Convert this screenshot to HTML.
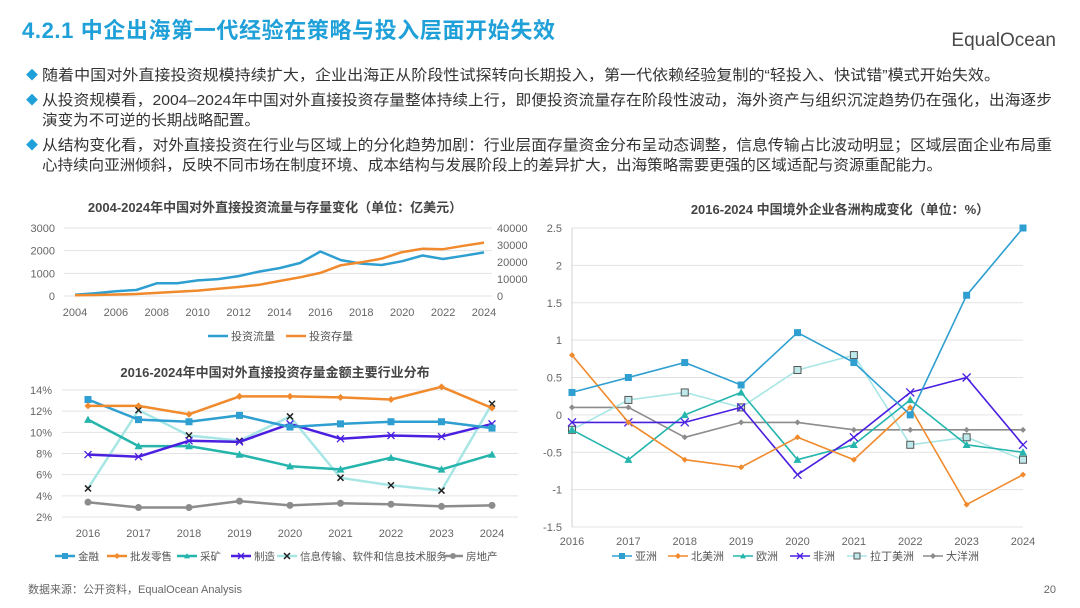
<!DOCTYPE html>
<html><head><meta charset="utf-8"><style>
body{margin:0;background:#fff;}
svg{display:block;font-family:"Liberation Sans","Noto Sans CJK SC",sans-serif;}
</style></head><body>
<svg id="s" width="1080" height="608" viewBox="0 0 1080 608">
<text x="22" y="38" font-size="22" font-weight="bold" fill="#1fa0d8" textLength="533">4.2.1 中企出海第一代经验在策略与投入层面开始失效</text>
<g><text x="1056" y="46" font-size="19" fill="#4a4a4a" text-anchor="end">EqualOcean</text></g>
<g font-size="15" fill="#333">
<text x="26" y="79" fill="#1fa0d8" font-size="12">◆</text><text x="42" y="80" textLength="958" lengthAdjust="spacingAndGlyphs">随着中国对外直接投资规模持续扩大，企业出海正从阶段性试探转向长期投入，第一代依赖经验复制的“轻投入、快试错”模式开始失效。</text>
<text x="26" y="104" fill="#1fa0d8" font-size="12">◆</text><text x="42" y="105" textLength="1010" lengthAdjust="spacingAndGlyphs">从投资规模看，2004–2024年中国对外直接投资存量整体持续上行，即便投资流量存在阶段性波动，海外资产与组织沉淀趋势仍在强化，出海逐步</text>
<text x="42" y="125" textLength="218" lengthAdjust="spacingAndGlyphs">演变为不可逆的长期战略配置。</text>
<text x="26" y="149" fill="#1fa0d8" font-size="12">◆</text><text x="42" y="150" textLength="1010" lengthAdjust="spacingAndGlyphs">从结构变化看，对外直接投资在行业与区域上的分化趋势加剧：行业层面存量资金分布呈动态调整，信息传输占比波动明显；区域层面企业布局重</text>
<text x="42" y="170" textLength="900" lengthAdjust="spacingAndGlyphs">心持续向亚洲倾斜，反映不同市场在制度环境、成本结构与发展阶段上的差异扩大，出海策略需要更强的区域适配与资源重配能力。</text>
</g>
<text x="28" y="593" font-size="11" fill="#666">数据来源：公开资料，EqualOcean Analysis</text>
<text x="1056" y="593" font-size="11" fill="#666" text-anchor="end">20</text>
<g id="c1"></g>
<g id="c2"></g>
<g id="c3"></g>
</svg>
<script>
const years1=[2004,2005,2006,2007,2008,2009,2010,2011,2012,2013,2014,2015,2016,2017,2018,2019,2020,2021,2022,2023,2024];
const flowVals=[55,123,212,265,559,565,688,747,878,1078,1231,1457,1962,1583,1430,1369,1537,1788,1631,1773,1923];
const stockVals=[448,572,906,1179,1840,2458,3172,4248,5319,6605,8826,10979,13574,18090,19823,21989,25807,27852,27548,29554,31400];
const leftTicks1=[0,1000,2000,3000];
const rightTicks1=[0,10000,20000,30000,40000];
const xTicks1=[2004,2006,2008,2010,2012,2014,2016,2018,2020,2022,2024];

const years2=[2016,2017,2018,2019,2020,2021,2022,2023,2024];
const finVals=[13.1,11.2,11.0,11.6,10.5,10.8,11.0,11.0,10.4];
const retailVals=[12.5,12.5,11.7,13.4,13.4,13.3,13.1,14.3,12.3];
const miningVals=[11.2,8.7,8.7,7.9,6.8,6.5,7.6,6.5,7.9];
const mfgVals=[7.9,7.7,9.2,9.1,10.8,9.4,9.7,9.6,10.8];
const itVals=[4.7,12.1,9.7,9.2,11.5,5.7,5.0,4.5,12.7];
const realVals=[3.4,2.9,2.9,3.5,3.1,3.3,3.2,3.0,3.1];
const yTicks2=[2,4,6,8,10,12,14];

const years3=[2016,2017,2018,2019,2020,2021,2022,2023,2024];
const asiaVals=[0.3,0.5,0.7,0.4,1.1,0.7,0,1.6,2.5];
const naVals=[0.8,-0.1,-0.6,-0.7,-0.3,-0.6,0.1,-1.2,-0.8];
const euVals=[-0.2,-0.6,0,0.3,-0.6,-0.4,0.2,-0.4,-0.5];
const afVals=[-0.1,-0.1,-0.1,0.1,-0.8,-0.3,0.3,0.5,-0.4];
const laVals=[-0.2,0.2,0.3,0.1,0.6,0.8,-0.4,-0.3,-0.6];
const ocVals=[0.1,0.1,-0.3,-0.1,-0.1,-0.2,-0.2,-0.2,-0.2];
const yTicks3=[-1.5,-1,-0.5,0,0.5,1,1.5,2,2.5];

const NS='http://www.w3.org/2000/svg';
function mk(p,tag,a,txt){const e=document.createElementNS(NS,tag);for(const k in a)e.setAttribute(k,a[k]);if(txt!==undefined)e.textContent=txt;p.appendChild(e);return e;}
function marker(g,type,x,y,c,sz){
  let e;
  if(type==='sq'){e=mk(g,'rect',{x:x-sz,y:y-sz,width:2*sz,height:2*sz,fill:c});}
  else if(type==='sqo'){e=mk(g,'rect',{x:x-sz,y:y-sz,width:2*sz,height:2*sz,fill:'#bfe9ea',stroke:'#555','stroke-width':1});}
  else if(type==='dia'){e=mk(g,'path',{d:`M${x} ${y-sz}L${x+sz} ${y}L${x} ${y+sz}L${x-sz} ${y}Z`,fill:c});}
  else if(type==='tri'){e=mk(g,'path',{d:`M${x} ${y-sz}L${x+sz} ${y+sz*0.8}L${x-sz} ${y+sz*0.8}Z`,fill:c});}
  else if(type==='x'){e=mk(g,'path',{d:`M${x-sz} ${y-sz}L${x+sz} ${y+sz}M${x+sz} ${y-sz}L${x-sz} ${y+sz}`,stroke:c,'stroke-width':1.3,fill:'none'});}
  else if(type==='xs'){e=mk(g,'path',{d:`M${x-sz} ${y-sz}L${x+sz} ${y+sz}M${x+sz} ${y-sz}L${x-sz} ${y+sz}`,stroke:'#222','stroke-width':1.5,fill:'none'});}
  else if(type==='dot'){e=mk(g,'circle',{cx:x,cy:y,r:sz,fill:c});}
  if(e){
  }
}
function series(g,xs,vals,xf,yf,c,w,type,sz,name){
  const sg=mk(g,'g',{});
  
  
  const d=vals.map((v,i)=>(i?'L':'M')+xf(xs[i]).toFixed(1)+' '+yf(v).toFixed(1)).join('');
  mk(sg,'path',{d:d,fill:'none',stroke:c,'stroke-width':w,'stroke-linejoin':'round'});
  if(type)vals.forEach((v,i)=>marker(sg,type,xf(xs[i]),yf(v),c,sz));
}
function legend(g,items,y,x0,gaps,sz,fs){
  let x=x0;
  items.forEach((it,i)=>{
    const lg=mk(g,'g',{});
    
    
    mk(lg,'line',{x1:x,y1:y,x2:x+20,y2:y,stroke:it[1],'stroke-width':it[3]||2.5});
    if(it[2])marker(lg,it[2],x+10,y,it[1],sz);
    mk(lg,'text',{x:x+23,y:y+4,'font-size':fs||11,fill:'#555'},it[0]);
    x+=gaps[i];
  });
}

// Chart 1
(function(){
  const g=document.getElementById('c1');
  const xf=v=>75+(v-2004)/20*409;
  const yl=v=>296-v/3000*68;
  const yr=v=>296-v/40000*68;
  mk(g,'text',{x:275,y:212,'font-size':13,'font-weight':'bold',fill:'#444','text-anchor':'middle'},'2004-2024年中国对外直接投资流量与存量变化（单位：亿美元）');
  leftTicks1.forEach(t=>{mk(g,'line',{x1:64,x2:492,y1:yl(t),y2:yl(t),stroke:'#e3e3e3'});mk(g,'text',{x:55,y:yl(t)+4,'font-size':11,fill:'#666','text-anchor':'end'},String(t));});
  rightTicks1.forEach(t=>mk(g,'text',{x:497,y:yr(t)+4,'font-size':11,fill:'#666'},String(t)));
  xTicks1.forEach(t=>mk(g,'text',{x:xf(t),y:316,'font-size':11,fill:'#666','text-anchor':'middle'},String(t)));
  series(g,years1,flowVals,xf,yl,'#2e9fd0',2.5,null,0,'flow-series');
  series(g,years1,stockVals,xf,yr,'#f08a2c',2.5,null,0,'stock-series');
  legend(g,[['投资流量','#2e9fd0'],['投资存量','#f08a2c']],336,208,[78,80],0);
})();

// Chart 2
(function(){
  const g=document.getElementById('c2');
  const xf=v=>88+(v-2016)/8*404;
  const yf=v=>517-(v-2)/12*127;
  mk(g,'text',{x:275,y:377,'font-size':13,'font-weight':'bold',fill:'#444','text-anchor':'middle'},'2016-2024年中国对外直接投资存量金额主要行业分布');
  yTicks2.forEach(t=>{mk(g,'line',{x1:62,x2:518,y1:yf(t),y2:yf(t),stroke:'#e3e3e3'});mk(g,'text',{x:52,y:yf(t)+4,'font-size':11,fill:'#666','text-anchor':'end'},t+'%');});
  years2.forEach(t=>mk(g,'text',{x:xf(t),y:537,'font-size':11,fill:'#666','text-anchor':'middle'},String(t)));
  series(g,years2,realVals,xf,yf,'#8c8c8c',2.5,'dot',3.5,'real-estate-series');
  series(g,years2,itVals,xf,yf,'#a8e6e6',2.5,'xs',3,'it-series');
  series(g,years2,miningVals,xf,yf,'#25b5ad',2.5,'tri',4,'mining-series');
  series(g,years2,mfgVals,xf,yf,'#4a1fe0',2.5,'x',3.5,'manufacturing-series');
  series(g,years2,finVals,xf,yf,'#2e9fd0',2.5,'sq',3.5,'finance-series');
  series(g,years2,retailVals,xf,yf,'#f08a2c',2.5,'dia',3.5,'retail-series');
  legend(g,[['金融','#2e9fd0','sq'],['批发零售','#f08a2c','dia'],['采矿','#25b5ad','tri'],['制造','#4a1fe0','x'],['信息传输、软件和信息技术服务','#a8e6e6','xs'],['房地产','#8c8c8c','dot']],556,55,[52,70,54,46,166,60],3,10.5);
})();

// Chart 3
(function(){
  const g=document.getElementById('c3');
  const xf=v=>572+(v-2016)/8*451;
  const yf=v=>527-(v+1.5)/4*299;
  mk(g,'text',{x:840,y:214,'font-size':13,'font-weight':'bold',fill:'#444','text-anchor':'middle'},'2016-2024 中国境外企业各洲构成变化（单位：%）');
  yTicks3.forEach(t=>{mk(g,'line',{x1:572,x2:1023,y1:yf(t),y2:yf(t),stroke:'#e3e3e3'});mk(g,'text',{x:562,y:yf(t)+4,'font-size':11,fill:'#666','text-anchor':'end'},String(t));});
  mk(g,'line',{x1:572,x2:572,y1:yf(2.5),y2:yf(-1.5),stroke:'#d0d0d0'});
  years3.forEach(t=>mk(g,'text',{x:xf(t),y:545,'font-size':11,fill:'#666','text-anchor':'middle'},String(t)));
  series(g,years3,ocVals,xf,yf,'#8c8c8c',1.6,'dia',3,'oceania-series');
  series(g,years3,laVals,xf,yf,'#a8e6e6',1.6,'sqo',3.5,'latin-america-series');
  series(g,years3,euVals,xf,yf,'#25b5ad',1.6,'tri',4,'europe-series');
  series(g,years3,afVals,xf,yf,'#4a1fe0',1.6,'x',4,'africa-series');
  series(g,years3,naVals,xf,yf,'#f08a2c',1.6,'dia',3,'north-america-series');
  series(g,years3,asiaVals,xf,yf,'#2e9fd0',1.6,'sq',3.5,'asia-series');
  legend(g,[['亚洲','#2e9fd0','sq',1.6],['北美洲','#f08a2c','dia',1.6],['欧洲','#25b5ad','tri',1.6],['非洲','#4a1fe0','x',1.6],['拉丁美洲','#a8e6e6','sqo',1.6],['大洋洲','#8c8c8c','dia',1.6]],556,612,[56,65,57,57,76,60],3);
})();
</script>
</body></html>
